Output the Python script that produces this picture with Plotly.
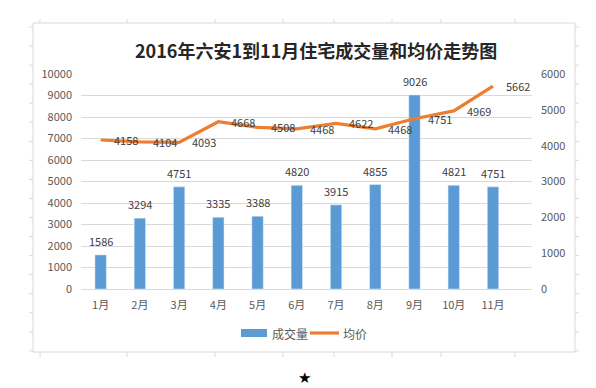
import plotly.graph_objects as go

months = ["1月", "2月", "3月", "4月", "5月", "6月", "7月", "8月", "9月", "10月", "11月"]
volume = [1586, 3294, 4751, 3335, 3388, 4820, 3915, 4855, 9026, 4821, 4751]
price = [4158, 4104, 4093, 4668, 4508, 4468, 4622, 4468, 4751, 4969, 5662]
left_ticks = [0, 1000, 2000, 3000, 4000, 5000, 6000, 7000, 8000, 9000, 10000]
right_ticks = [0, 1000, 2000, 3000, 4000, 5000, 6000]
series_names = ["成交量", "均价"]
title = "2016年六安1到11月住宅成交量和均价走势图"

W, H = 596, 388
L, R, T, B = 73, 524, 66, 281

def px(x):
    return (x - L) / (R - L)

def py(y):
    return (B - y) / (B - T)

FONT = "Noto Sans CJK SC, Noto Sans, sans-serif"
BAR_C = "#5B9BD5"
LINE_C = "#ED7D31"
FRAME_C = "#D9D9D9"

fig = go.Figure()
fig.add_trace(go.Bar(x=months, y=volume, name=series_names[0], marker_color=BAR_C,
                     width=0.29, yaxis="y", showlegend=False))
fig.add_trace(go.Scatter(x=months, y=price, name=series_names[1], mode="lines",
                         line=dict(color=LINE_C, width=3.2), yaxis="y2", showlegend=False))

annotations = []
for m, v in zip(months, volume):
    annotations.append(dict(x=m, y=v, xref="x", yref="y", text=str(v), showarrow=False,
                            yanchor="middle", yshift=14,
                            font=dict(family=FONT, size=11, color="#404040")))
for m, v in zip(months, price):
    annotations.append(dict(x=m, y=v, xref="x", yref="y2", text=str(v), showarrow=False,
                            xanchor="center", yanchor="middle", xshift=25,
                            font=dict(family=FONT, size=11, color="#404040")))
annotations.append(dict(x=px(308), y=py(42), xref="paper", yref="paper", text="<b>" + title + "</b>",
                        showarrow=False, xanchor="center", yanchor="middle",
                        font=dict(family=FONT, size=18, color="#262626")))
annotations.append(dict(x=px(296), y=py(370), xref="paper", yref="paper", text="★",
                        showarrow=False, xanchor="center", yanchor="middle",
                        font=dict(family="DejaVu Sans", size=15, color="#000000")))
# legend texts
annotations.append(dict(x=px(262), y=py(325), xref="paper", yref="paper", text=series_names[0],
                        showarrow=False, xanchor="left", yanchor="middle",
                        font=dict(family=FONT, size=12, color="#595959")))
annotations.append(dict(x=px(333), y=py(325), xref="paper", yref="paper", text=series_names[1],
                        showarrow=False, xanchor="left", yanchor="middle",
                        font=dict(family=FONT, size=12, color="#595959")))

shapes = [dict(type="rect", xref="paper", yref="paper", x0=px(25), x1=px(567), y0=py(344), y1=py(15),
               line=dict(color=FRAME_C, width=1), layer="below")]
for x in [32, 119, 207, 275, 326, 384, 433, 507]:
    shapes.append(dict(type="line", xref="paper", yref="paper", x0=px(x), x1=px(x), y0=py(11), y1=py(15),
                       line=dict(color=FRAME_C, width=1)))
    shapes.append(dict(type="line", xref="paper", yref="paper", x0=px(x), x1=px(x), y0=py(344), y1=py(349),
                       line=dict(color=FRAME_C, width=1)))
for i in range(18):
    y = 19 + i * 19.05
    shapes.append(dict(type="line", xref="paper", yref="paper", x0=px(21), x1=px(25), y0=py(y), y1=py(y),
                       line=dict(color=FRAME_C, width=1)))
    shapes.append(dict(type="line", xref="paper", yref="paper", x0=px(567), x1=px(571), y0=py(y), y1=py(y),
                       line=dict(color=FRAME_C, width=1)))
# legend swatches
shapes.append(dict(type="rect", xref="paper", yref="paper", x0=px(233), x1=px(259), y0=py(329), y1=py(321),
                   line=dict(width=0), fillcolor=BAR_C))
shapes.append(dict(type="line", xref="paper", yref="paper", x0=px(302), x1=px(331), y0=py(325), y1=py(325),
                   line=dict(color=LINE_C, width=3.2)))

tickfont = dict(family=FONT, size=11, color="#595959")
fig.update_layout(
    width=W, height=H,
    margin=dict(l=L, r=W - R, t=T, b=H - B, pad=0),
    paper_bgcolor="white", plot_bgcolor="white",
    showlegend=False,
    xaxis=dict(showgrid=False, showline=False, ticks="", tickfont=tickfont,
               ticklabelstandoff=8, zeroline=False),
    yaxis=dict(range=[0, 10000], tickvals=left_ticks, ticktext=[str(v) for v in left_ticks],
               showgrid=True, gridcolor=FRAME_C, gridwidth=1,
               zeroline=True, zerolinecolor=FRAME_C, zerolinewidth=1, showline=False, ticks="",
               tickfont=tickfont, ticklabelstandoff=8),
    yaxis2=dict(range=[0, 6000], tickvals=right_ticks, ticktext=[str(v) for v in right_ticks],
                overlaying="y", side="right", showgrid=False,
                zeroline=False, showline=False, ticks="", tickfont=tickfont, ticklabelstandoff=8),
    annotations=annotations,
    shapes=shapes,
)

fig.write_html("out.html")
